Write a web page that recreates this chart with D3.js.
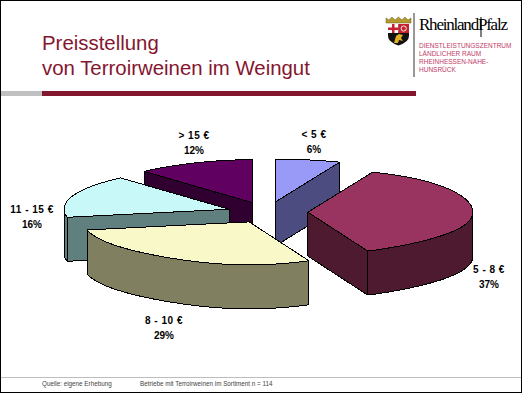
<!DOCTYPE html>
<html>
<head>
<meta charset="utf-8">
<script src="https://cdn.jsdelivr.net/npm/d3@7"></script>
<style>
  html, body { margin: 0; padding: 0; background: #fff; }
  svg { display: block; }
</style>
</head>
<body>
<div id="chart"></div>
<script>
// Chart data
const categories = ["< 5 €", "5 - 8 €", "8 - 10 €", "11 - 15 €", "> 15 €"];
const shares = [6, 37, 29, 16, 12];
const topColors = ["#9999F8", "#993360", "#F8F8C8", "#C8F8F8", "#600060"];
const sideColors = ["#4C4C80", "#4D1A30", "#808060", "#608080", "#300030"];
const titleLines = ["Preisstellung", "von Terroirweinen im Weingut"];
const orgLines = ["DIENSTLEISTUNGSZENTRUM", "LÄNDLICHER RAUM", "RHEINHESSEN-NAHE-", "HUNSRÜCK"];
const footerNotes = ["Quelle: eigene Erhebung", "Betriebe mit Terroirweinen im Sortiment n = 114"];

const width = 523, height = 393;
const wine = "#85162F";

// Pie geometry: unit circle squashed into an ellipse, slices pulled out from the centre
const cx = 267.5, cy = 212.5, rx = 165, ry = 43, depth = 44, explode = 0.245;
const x = d3.scaleLinear().domain([-1, 1]).range([cx - rx, cx + rx]);
const y = d3.scaleLinear().domain([-1, 1]).range([cy - ry, cy + ry]);

// Label anchor of each slice
const labelPos = [[314, 138], [489, 273], [164, 324], [32, 213], [194, 139]];

const svg = d3.select("#chart")
    .append("svg")
    .attr("width", width)
    .attr("height", height);

svg.append("rect")
    .attr("width", width)
    .attr("height", height)
    .attr("fill", "#fff");

// Title
svg.append("g")
    .selectAll("text")
    .data(titleLines)
    .enter()
    .append("text")
    .attr("x", 42)
    .attr("y", (d, i) => 50 + i * 25)
    .attr("fill", wine)
    .style("font-family", "'Liberation Sans', sans-serif")
    .style("font-size", "20.4px")
    .text(d => d);

// Header rule
svg.append("rect").attr("x", 1).attr("y", 91).attr("width", 41).attr("height", 5).attr("fill", "#C0C0C0");
svg.append("rect").attr("x", 42).attr("y", 91).attr("width", 374).attr("height", 5).attr("fill", wine);

// Logo block
const logo = svg.append("g");
logo.append("line")
    .attr("x1", 414).attr("x2", 414).attr("y1", 13).attr("y2", 77)
    .attr("stroke", "#333").attr("stroke-width", 1);

const shield = "M388,24 H409 V36 Q409,42 398.5,45.5 Q388,42 388,36 Z";
logo.append("path").attr("d", shield).attr("fill", "#111");
logo.append("rect").attr("x", 388).attr("y", 24).attr("width", 10.5).attr("height", 9).attr("fill", "#fff");
logo.append("rect").attr("x", 392).attr("y", 24).attr("width", 2.5).attr("height", 9).attr("fill", "#C8202F");
logo.append("rect").attr("x", 388).attr("y", 27.5).attr("width", 10.5).attr("height", 2.5).attr("fill", "#C8202F");
logo.append("rect").attr("x", 398.5).attr("y", 24).attr("width", 10.5).attr("height", 9).attr("fill", "#C8202F");
logo.append("circle").attr("cx", 403.7).attr("cy", 28.5).attr("r", 2.6)
    .attr("fill", "none").attr("stroke", "#eee").attr("stroke-width", 1);
logo.append("path").attr("d", "M394,43 L396,36 L399,34 L403,35 L401,38 L403,41 L399,40 L398,43 Z").attr("fill", "#E0B020");
logo.append("path").attr("d", "M386,23 L386,18 L389,20 L392,17 L395,20 L398.5,17 L402,20 L405,17 L408,20 L411,18 L411,23 Z")
    .attr("fill", "#B59A2E").attr("stroke", "#6b5a20").attr("stroke-width", 0.5);

logo.append("text")
    .attr("x", 419).attr("y", 30)
    .attr("fill", "#000")
    .attr("textLength", 89)
    .attr("lengthAdjust", "spacing")
    .style("font-family", "'Liberation Serif', serif")
    .style("font-size", "17px")
    .text("RheinlandPfalz");
logo.append("line")
    .attr("x1", 481).attr("x2", 481).attr("y1", 17).attr("y2", 37)
    .attr("stroke", "#000").attr("stroke-width", 1);

logo.append("g")
    .selectAll("text")
    .data(orgLines)
    .enter()
    .append("text")
    .attr("x", 419)
    .attr("y", (d, i) => 47.5 + i * 8.2)
    .attr("fill", "#C23A66")
    .style("font-family", "'Liberation Sans', sans-serif")
    .style("font-size", "6.5px")
    .text(d => d);

// Slice angles, clockwise from 12 o'clock
const slices = d3.pie().sort(null)(shares).map((d, i) => {
    const mid = (d.startAngle + d.endAngle) / 2;
    return {
        index: i,
        start: d.startAngle,
        end: d.endAngle,
        dx: Math.sin(mid) * explode,
        dy: -Math.cos(mid) * explode
    };
});

const line = d3.line().x(d => d[0]).y(d => d[1]);

// The original 3D view is skewed: wider at the back right, narrower at the back left and front
function warp(a) {
    const c = Math.cos(a);
    if (c <= 0) return 1 + 0.2 * c * c * c;
    return Math.sin(a) > 0 ? 1 + 0.08 * c * c * c : 1 - 0.1 * c * c * c;
}

// Point on the rim of a slice at the given angle, dz pixels below the top face
function rim(s, a, dz) {
    return [x(s.dx + Math.sin(a) * warp(a)), y(s.dy - Math.cos(a)) + dz];
}
function apex(s, dz) {
    return [x(s.dx), y(s.dy) + dz];
}
function arcPoints(s, a0, a1, dz) {
    const n = Math.max(2, Math.ceil((a1 - a0) * 40));
    return d3.range(n + 1).map(k => rim(s, a0 + (a1 - a0) * k / n, dz));
}

// Back slices first, so the front ones overlap them
const drawOrder = [4, 0, 3, 1, 2];
const pieGroup = svg.append("g")
    .attr("stroke", "#000")
    .attr("stroke-width", 1)
    .attr("stroke-linejoin", "round")
    .style("shape-rendering", "crispEdges");

drawOrder.forEach(i => {
    const s = slices[i];
    const g = pieGroup.append("g");

    // radial walls, rearmost one first
    const walls = [s.start, s.end]
        .map(a => [apex(s, 0), rim(s, a, 0), rim(s, a, depth), apex(s, depth)])
        .sort((p, q) => (p[0][1] + p[1][1]) - (q[0][1] + q[1][1]));
    walls.forEach(w => {
        g.append("path")
            .attr("d", line(w) + "Z")
            .attr("fill", sideColors[i]);
    });

    // outer wall, only the part facing the viewer
    const a0 = Math.max(s.start, Math.PI / 2);
    const a1 = Math.min(s.end, Math.PI * 1.5);
    if (a1 > a0) {
        const pts = arcPoints(s, a0, a1, 0).concat(arcPoints(s, a0, a1, depth).reverse());
        g.append("path")
            .attr("d", line(pts) + "Z")
            .attr("fill", sideColors[i]);
    }

    // top face
    const top = [apex(s, 0)].concat(arcPoints(s, s.start, s.end, 0));
    g.append("path")
        .attr("d", line(top) + "Z")
        .attr("fill", topColors[i]);
});

// Slice labels
const labels = svg.append("g")
    .attr("text-anchor", "middle")
    .attr("fill", "#000")
    .style("font-family", "'Liberation Sans', sans-serif")
    .style("font-size", "10px")
    .style("font-weight", "bold");

categories.forEach((c, i) => {
    labels.append("text")
        .attr("x", labelPos[i][0])
        .attr("y", labelPos[i][1])
        .style("letter-spacing", "0.5px")
        .text(c);
    labels.append("text")
        .attr("x", labelPos[i][0])
        .attr("y", labelPos[i][1] + 14.5)
        .text(shares[i] + "%");
});

// Footer
svg.append("line")
    .attr("x1", 0).attr("x2", 521).attr("y1", 377.5).attr("y2", 377.5)
    .attr("stroke", "#BDBDBD").attr("stroke-width", 1);

svg.append("g")
    .selectAll("text")
    .data(footerNotes)
    .enter()
    .append("text")
    .attr("x", (d, i) => i === 0 ? 42 : 140)
    .attr("y", 386)
    .attr("fill", "#444")
    .style("font-family", "'Liberation Sans', sans-serif")
    .style("font-size", "6.3px")
    .text(d => d);

// Slide frame
svg.append("rect")
    .attr("x", 0.5).attr("y", 0.5)
    .attr("width", 521).attr("height", 392)
    .attr("fill", "none")
    .attr("stroke", "#000")
    .attr("stroke-width", 1);
</script>
</body>
</html>
